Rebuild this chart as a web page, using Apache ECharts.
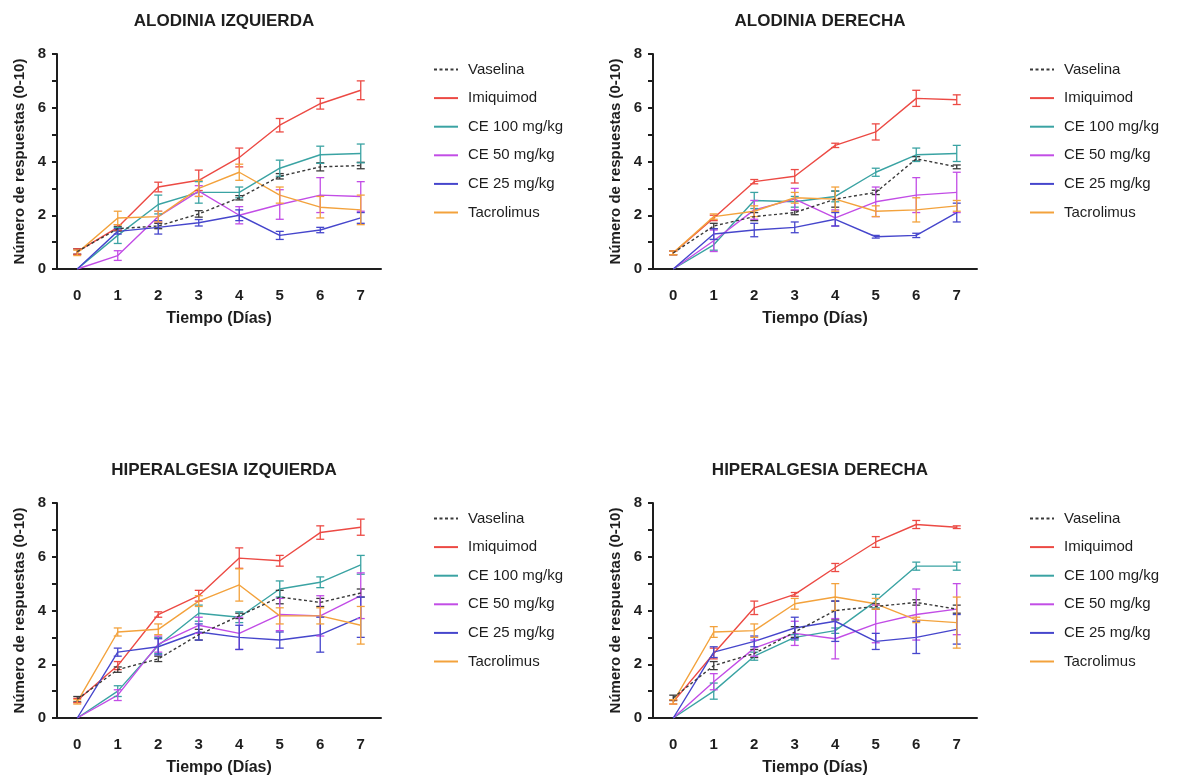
<!DOCTYPE html>
<html>
<head>
<meta charset="utf-8">
<script src="https://cdn.jsdelivr.net/npm/echarts@6/dist/echarts.min.js"></script>
<style>
  html, body { margin: 0; padding: 0; background: #fff; }
  #chart { width: 1183px; height: 778px; }
</style>
</head>
<body>
<div id="chart"></div>
<script>
  const days = ['0', '1', '2', '3', '4', '5', '6', '7'];
  const groups = ['Vaselina', 'Imiquimod', 'CE 100 mg/kg', 'CE 50 mg/kg', 'CE 25 mg/kg', 'Tacrolimus'];
  const colors = ['#3a3a3a', '#ec4a44', '#3aa3a3', '#c24de6', '#4646cc', '#f3a23c'];
  const titles = ['ALODINIA IZQUIERDA', 'ALODINIA DERECHA', 'HIPERALGESIA IZQUIERDA', 'HIPERALGESIA DERECHA'];

  // rows follow the order of `groups`
  const alodIzqMean = [
    [0.65, 1.5, 1.6, 2.05, 2.65, 3.45, 3.8, 3.85],
    [0.65, 1.55, 3.05, 3.3, 4.15, 5.35, 6.15, 6.65],
    [0, 1.25, 2.4, 2.85, 2.85, 3.75, 4.25, 4.3],
    [0, 0.5, 1.95, 2.9, 2.0, 2.4, 2.75, 2.7],
    [0, 1.4, 1.55, 1.72, 2.0, 1.25, 1.45, 1.9],
    [0.6, 1.9, 1.95, 3.0, 3.6, 2.75, 2.3, 2.2]
  ];
  const alodIzqSem = [
    [0.1, 0.08, 0.1, 0.12, 0.08, 0.1, 0.15, 0.12],
    [0.1, 0.1, 0.18, 0.38, 0.35, 0.25, 0.2, 0.35],
    [0, 0.3, 0.35, 0.4, 0.2, 0.3, 0.32, 0.35],
    [0, 0.18, 0.2, 0.2, 0.32, 0.55, 0.65, 0.55],
    [0, 0.1, 0.25, 0.12, 0.2, 0.15, 0.1, 0.2],
    [0.1, 0.25, 0.2, 0.3, 0.3, 0.3, 0.4, 0.55]
  ];

  const alodDerMean = [
    [0.6, 1.6, 1.95, 2.1, 2.6, 2.85, 4.1, 3.8],
    [0.6, 1.9, 3.25, 3.45, 4.6, 5.1, 6.35, 6.3],
    [0, 0.9, 2.55, 2.5, 2.7, 3.6, 4.25, 4.3],
    [0, 1.05, 2.2, 2.6, 1.9, 2.5, 2.75, 2.85],
    [0, 1.3, 1.45, 1.55, 1.85, 1.2, 1.25, 2.1],
    [0.6, 1.95, 2.15, 2.65, 2.6, 2.15, 2.2, 2.35]
  ];
  const alodDerSem = [
    [0.07, 0.1, 0.15, 0.08, 0.3, 0.08, 0.08, 0.07],
    [0.07, 0.1, 0.08, 0.25, 0.08, 0.3, 0.3, 0.18],
    [0, 0.2, 0.3, 0.2, 0.2, 0.15, 0.25, 0.3],
    [0, 0.4, 0.35, 0.4, 0.3, 0.55, 0.65, 0.75],
    [0, 0.2, 0.25, 0.2, 0.25, 0.05, 0.08, 0.35],
    [0.07, 0.1, 0.2, 0.2, 0.45, 0.2, 0.45, 0.2]
  ];

  const hipIzqMean = [
    [0.7, 1.8, 2.2, 3.1, 3.8, 4.5, 4.3, 4.65],
    [0.65, 1.95, 3.85, 4.55, 5.95, 5.85, 6.9, 7.1],
    [0, 1.0, 2.7, 3.9, 3.75, 4.8, 5.05, 5.7],
    [0, 0.85, 2.75, 3.45, 3.15, 3.85, 3.8, 4.55],
    [0, 2.45, 2.65, 3.2, 3.0, 2.9, 3.1, 3.75],
    [0.6, 3.2, 3.3, 4.35, 4.95, 3.8, 3.8, 3.45]
  ];
  const hipIzqSem = [
    [0.1, 0.1, 0.1, 0.2, 0.1, 0.25, 0.15, 0.15],
    [0.08, 0.15, 0.1, 0.2, 0.38, 0.2, 0.25, 0.3],
    [0, 0.2, 0.3, 0.3, 0.2, 0.3, 0.2, 0.35],
    [0, 0.2, 0.3, 0.3, 0.6, 0.6, 0.75, 0.85],
    [0, 0.15, 0.3, 0.3, 0.45, 0.3, 0.65, 0.75],
    [0.08, 0.15, 0.2, 0.2, 0.6, 0.3, 0.3, 0.7]
  ];

  const hipDerMean = [
    [0.75, 1.95, 2.4, 3.2, 4.0, 4.15, 4.3, 4.05],
    [0.6, 2.4, 4.1, 4.6, 5.6, 6.55, 7.2, 7.1],
    [0, 1.0, 2.3, 3.0, 3.25, 4.35, 5.65, 5.65],
    [0, 1.35, 2.6, 3.15, 2.95, 3.5, 3.85, 4.05],
    [0, 2.45, 2.85, 3.35, 3.6, 2.85, 3.0, 3.3],
    [0.6, 3.2, 3.25, 4.25, 4.5, 4.25, 3.65, 3.55]
  ];
  const hipDerSem = [
    [0.1, 0.15, 0.15, 0.2, 0.35, 0.1, 0.1, 0.15],
    [0.08, 0.2, 0.25, 0.07, 0.15, 0.2, 0.15, 0.05],
    [0, 0.3, 0.15, 0.1, 0.1, 0.25, 0.15, 0.15],
    [0, 0.3, 0.3, 0.45, 0.75, 0.7, 0.95, 0.95],
    [0, 0.2, 0.2, 0.4, 0.75, 0.3, 0.6, 0.55],
    [0.08, 0.2, 0.25, 0.2, 0.5, 0.2, 0.1, 0.95]
  ];

  const panels = [
    { mean: alodIzqMean, sem: alodIzqSem },
    { mean: alodDerMean, sem: alodDerSem },
    { mean: hipIzqMean, sem: hipIzqSem },
    { mean: hipDerMean, sem: hipDerSem }
  ];

  const font = '"Liberation Sans", Arial, sans-serif';
  const ink = '#1e1e1e';
  const lefts = [57, 653];
  const tops = [54, 503];
  const plotW = 324;
  const plotH = 215;

  const chart = echarts.init(document.getElementById('chart'));

  const grid = [], xAxis = [], yAxis = [], title = [], legend = [], series = [];

  panels.forEach((panel, p) => {
    const left = lefts[p % 2];
    const top = tops[Math.floor(p / 2)];

    grid.push({ left, top, width: plotW, height: plotH });

    title.push({
      text: titles[p],
      left: left + plotW / 2,
      top: top - 46,
      textAlign: 'center',
      textStyle: { fontFamily: font, fontSize: 17, fontWeight: 'bold', color: ink }
    });

    legend.push({
      data: groups,
      orient: 'vertical',
      left: left + 371,
      top: top + 3,
      itemWidth: 24,
      itemHeight: 14,
      itemGap: 13.6,
      selectedMode: false,
      itemStyle: { opacity: 0 },
      textStyle: { fontFamily: font, fontSize: 15, color: ink, padding: [0, 0, 0, 5] }
    });

    xAxis.push({
      type: 'category',
      gridIndex: p,
      data: days,
      boundaryGap: true,
      name: 'Tiempo (Días)',
      nameLocation: 'middle',
      nameGap: 42,
      nameTextStyle: { fontFamily: font, fontSize: 16, fontWeight: 'bold', color: ink },
      axisLine: { lineStyle: { color: ink, width: 2 } },
      axisTick: { alignWithLabel: true, length: 6, lineStyle: { color: ink, width: 2 } },
      axisLabel: { margin: 19, fontFamily: font, fontSize: 15, fontWeight: 'bold', color: ink },
      splitLine: { show: false }
    });

    yAxis.push({
      type: 'value',
      gridIndex: p,
      min: 0,
      max: 8,
      interval: 1,
      name: 'Número de respuestas (0-10)',
      nameLocation: 'middle',
      nameGap: 30,
      nameTextStyle: { fontFamily: font, fontSize: 15, fontWeight: 'bold', color: ink },
      axisLine: { show: true, lineStyle: { color: ink, width: 2 } },
      axisTick: { show: true, length: 5, lineStyle: { color: ink, width: 2 } },
      axisLabel: {
        margin: 11,
        fontFamily: font,
        fontSize: 15,
        fontWeight: 'bold',
        color: ink,
        formatter: (v) => (v % 2 === 0 ? String(v) : '')
      },
      splitLine: { show: false }
    });

    groups.forEach((name, g) => {
      series.push({
        name,
        type: 'line',
        xAxisIndex: p,
        yAxisIndex: p,
        data: panel.mean[g],
        symbol: 'none',
        color: colors[g],
        lineStyle: { width: 1.4, color: colors[g], type: g === 0 ? [3, 2.5] : 'solid' },
        z: g === 0 ? 4 : 2,
        animation: false
      });
    });

    groups.forEach((name, g) => {
      series.push({
        name: name + ' SEM',
        type: 'custom',
        xAxisIndex: p,
        yAxisIndex: p,
        data: panel.mean[g].map((m, i) => [i, m, panel.sem[g][i]]),
        encode: { x: 0, y: 1 },
        z: 3,
        animation: false,
        renderItem: (params, api) => {
          const i = api.value(0);
          const m = api.value(1);
          const e = api.value(2);
          if (!e) return null;
          const hi = api.coord([i, m + e]);
          const lo = api.coord([i, Math.max(0, m - e)]);
          const hw = 4;
          const style = { stroke: colors[g], lineWidth: 1.3 };
          return {
            type: 'group',
            children: [
              { type: 'line', shape: { x1: hi[0], y1: hi[1], x2: lo[0], y2: lo[1] }, style },
              { type: 'line', shape: { x1: hi[0] - hw, y1: hi[1], x2: hi[0] + hw, y2: hi[1] }, style },
              { type: 'line', shape: { x1: lo[0] - hw, y1: lo[1], x2: lo[0] + hw, y2: lo[1] }, style }
            ]
          };
        }
      });
    });
  });

  chart.setOption({
    backgroundColor: '#fff',
    animation: false,
    title,
    legend,
    grid,
    xAxis,
    yAxis,
    series
  });

  window.addEventListener('resize', () => chart.resize());
</script>
</body>
</html>
